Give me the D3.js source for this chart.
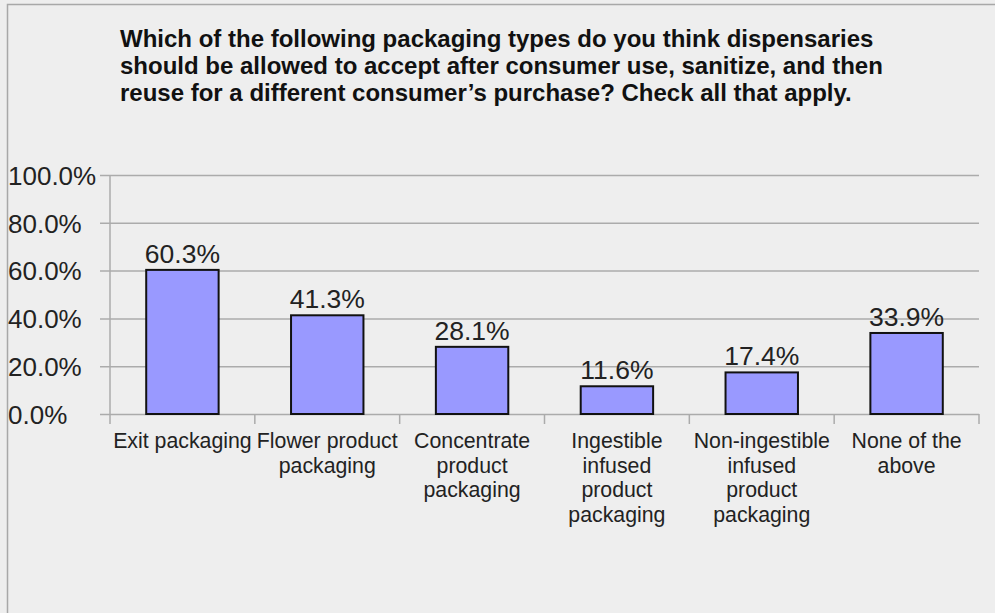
<!DOCTYPE html>
<html>
<head>
<meta charset="utf-8">
<script src="https://cdn.jsdelivr.net/npm/d3@7"></script>
<style>
  html, body { margin: 0; padding: 0; background: #eeeeee; }
  svg { display: block; }
  text { font-family: "Liberation Sans", Arial, sans-serif; }
</style>
</head>
<body>
<svg id="chart" width="995" height="613"></svg>
<script>
// Survey responses: share of respondents selecting each packaging type
const categories = [
  ["Exit packaging"],
  ["Flower product", "packaging"],
  ["Concentrate", "product", "packaging"],
  ["Ingestible", "infused", "product", "packaging"],
  ["Non-ingestible", "infused", "product", "packaging"],
  ["None of the", "above"]
];
const values = [60.3, 41.3, 28.1, 11.6, 17.4, 33.9];
const yTicks = [0, 20, 40, 60, 80, 100];
const titleLines = [
  "Which of the following packaging types do you think dispensaries",
  "should be allowed to accept after consumer use, sanitize, and then",
  "reuse for a different consumer\u2019s purchase? Check all that apply."
];

const W = 995, H = 613;
const svg = d3.select("#chart");

// frame
svg.append("rect").attr("x", 0).attr("y", 0).attr("width", W).attr("height", H).attr("fill", "#eeeeee");
svg.append("path").attr("d", `M7.5,${H} V4.5 H${W}`).attr("fill", "none").attr("stroke", "#a8a8a8").attr("stroke-width", 1.5);

const plot = { left: 110, right: 979, top: 175, bottom: 414 };

const x = d3.scaleBand()
  .domain(d3.range(categories.length))
  .range([plot.left, plot.right])
  .paddingInner(0.5).paddingOuter(0.25);
const band = d3.scaleBand().domain(d3.range(categories.length)).range([plot.left, plot.right]);

const y = d3.scaleLinear().domain([0, 100]).range([plot.bottom, plot.top]);

// title
const title = svg.append("text")
  .attr("x", 120).attr("y", 47)
  .attr("font-size", 24).attr("font-weight", "bold").attr("fill", "#111");
titleLines.forEach((t, i) => title.append("tspan").attr("x", 120).attr("dy", i === 0 ? 0 : 27).text(t));

// horizontal gridlines + y tick labels
const gy = svg.append("g").attr("transform", `translate(${plot.right},0)`);
gy.call(d3.axisLeft(y).tickValues(yTicks).tickSize(plot.right - plot.left + 10)
  .tickFormat(d => d.toFixed(1) + "%").tickPadding(4));
gy.select(".domain").remove();
gy.selectAll(".tick line").attr("stroke", "#ababab").attr("stroke-width", 1.5);
gy.selectAll(".tick text")
  .attr("font-size", 26).attr("fill", "#222")
  .attr("font-family", "'Liberation Sans', Arial, sans-serif")
  .attr("x", -(plot.right - 8))
  .attr("text-anchor", "start").attr("dy", "0.36em");

// vertical axis line
svg.append("line").attr("x1", plot.left).attr("x2", plot.left)
  .attr("y1", plot.top).attr("y2", plot.bottom + 10)
  .attr("stroke", "#ababab").attr("stroke-width", 1.5);

// category boundary ticks
const bounds = d3.range(1, categories.length).map(i => band(i)).concat([plot.right]);
svg.append("g").selectAll("line").data(bounds).join("line")
  .attr("x1", d => d).attr("x2", d => d)
  .attr("y1", plot.bottom).attr("y2", plot.bottom + 10)
  .attr("stroke", "#ababab").attr("stroke-width", 1.5);

// bars
svg.append("g").selectAll("rect").data(values).join("rect")
  .attr("x", (d, i) => x(i))
  .attr("y", d => y(d))
  .attr("width", x.bandwidth())
  .attr("height", d => y(0) - y(d))
  .attr("fill", "#9999ff")
  .attr("stroke", "#111").attr("stroke-width", 2);

// value labels
svg.append("g").selectAll("text").data(values).join("text")
  .attr("x", (d, i) => x(i) + x.bandwidth() / 2)
  .attr("y", d => y(d) - 7)
  .attr("text-anchor", "middle")
  .attr("font-size", 26.5).attr("fill", "#222")
  .text(d => d.toFixed(1) + "%");

// category labels
const cl = svg.append("g").selectAll("text").data(categories).join("text")
  .attr("x", (d, i) => band(i) + band.bandwidth() / 2)
  .attr("y", 448)
  .attr("text-anchor", "middle")
  .attr("font-size", 21.3).attr("fill", "#222");
cl.each(function(lines) {
  const t = d3.select(this);
  const cx = t.attr("x");
  lines.forEach((s, i) => t.append("tspan").attr("x", cx).attr("dy", i === 0 ? 0 : 24.5).text(s));
});
</script>
</body>
</html>
